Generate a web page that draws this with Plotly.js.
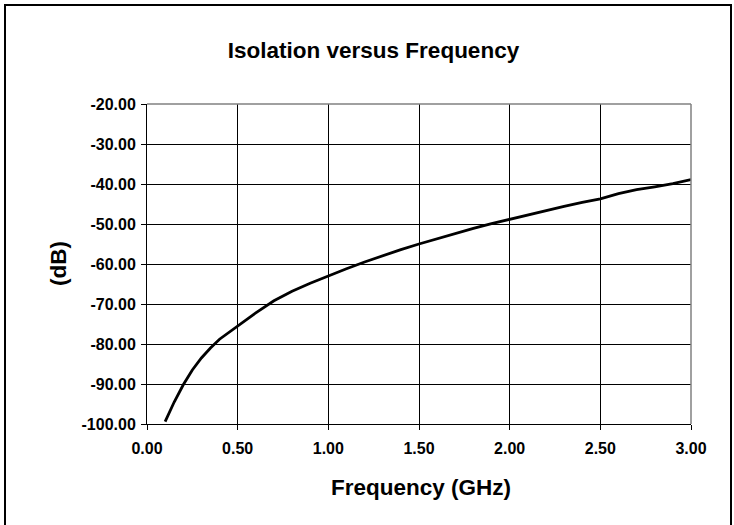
<!DOCTYPE html>
<html>
<head>
<meta charset="utf-8">
<script src="https://cdn.plot.ly/plotly-3.0.1.min.js"></script>
<style>
html, body { margin: 0; padding: 0; background: #fff; }
#chart { width: 734px; height: 525px; }
</style>
</head>
<body>
<div id="chart"></div>
<script>
// Data
var frequencyGHz = [0.10, 0.15, 0.20, 0.25, 0.30, 0.35, 0.40, 0.50, 0.60, 0.70, 0.80, 0.90, 1.00,
                    1.10, 1.20, 1.30, 1.40, 1.50, 1.60, 1.70, 1.80, 1.90, 2.00, 2.10, 2.20,
                    2.30, 2.40, 2.50, 2.60, 2.70, 2.80, 2.90, 3.00];
var isolationDB = [-99.4, -94.5, -90.2, -86.5, -83.5, -81.0, -78.8, -75.5, -72.2, -69.2, -66.8, -64.8, -62.9,
                   -61.2, -59.5, -57.9, -56.4, -55.0, -53.7, -52.3, -51.1, -49.9, -48.8, -47.7, -46.6,
                   -45.6, -44.6, -43.7, -42.4, -41.4, -40.7, -39.9, -38.9];
var xTickVals = [0, 0.5, 1.0, 1.5, 2.0, 2.5, 3.0];
var xTickText = ["0.00", "0.50", "1.00", "1.50", "2.00", "2.50", "3.00"];
var yTickVals = [-100, -90, -80, -70, -60, -50, -40, -30, -20];
var yTickText = ["-100.00", "-90.00", "-80.00", "-70.00", "-60.00", "-50.00", "-40.00", "-30.00", "-20.00"];
var chartTitle = "Isolation versus Frequency";
var xTitle = "Frequency (GHz)";
var yTitle = "(dB)";

var FONT = "Liberation Sans, Arial, Helvetica, sans-serif";

var trace = {
  x: frequencyGHz,
  y: isolationDB,
  type: "scatter",
  mode: "lines",
  line: { color: "#000000", width: 2.8 },
  hoverinfo: "skip"
};

var layout = {
  width: 734,
  height: 525,
  margin: { l: 147, r: 43, t: 104, b: 101 },
  paper_bgcolor: "#ffffff",
  plot_bgcolor: "#ffffff",
  showlegend: false,
  font: { family: FONT, color: "#000000" },
  title: {
    text: "<b>" + chartTitle + "</b>",
    font: { family: FONT, size: 22.5, color: "#000000" },
    xref: "container", x: 373.5 / 734, xanchor: "center",
    yref: "container", y: 1 - 50 / 525, yanchor: "middle"
  },
  xaxis: {
    range: [0, 3],
    tickvals: xTickVals,
    ticktext: xTickText,
    tickfont: { family: FONT, size: 16, color: "#000000", weight: "bold" },
    ticks: "outside", ticklen: 5, tickcolor: "#000000", tickwidth: 1,
    ticklabelstandoff: 5,
    showgrid: true, gridcolor: "#000000", gridwidth: 1,
    zeroline: false,
    showline: true, linecolor: "#000000", linewidth: 1,
    fixedrange: true
  },
  yaxis: {
    range: [-100, -20],
    tickvals: yTickVals,
    ticktext: yTickText,
    tickfont: { family: FONT, size: 16, color: "#000000", weight: "bold" },
    ticks: "outside", ticklen: 5, tickcolor: "#000000", tickwidth: 1,
    ticklabelstandoff: 2,
    showgrid: true, gridcolor: "#000000", gridwidth: 1,
    zeroline: false,
    showline: true, linecolor: "#000000", linewidth: 1,
    fixedrange: true
  },
  shapes: [
    { type: "line", xref: "paper", yref: "paper", x0: 0, x1: 1, y0: 1, y1: 1,
      line: { color: "#808080", width: 1.5 } },
    { type: "line", xref: "paper", yref: "paper", x0: 1, x1: 1, y0: 0, y1: 1,
      line: { color: "#808080", width: 1.5 } },
    { type: "rect", xref: "paper", yref: "paper",
      x0: (5 - 147) / 544, x1: (731 - 147) / 544,
      y0: (424 - 540) / 320, y1: (424 - 5) / 320,
      line: { color: "#000000", width: 2 }, fillcolor: "rgba(0,0,0,0)" }
  ],
  annotations: [
    { text: "<b>" + xTitle + "</b>", xref: "paper", yref: "paper",
      x: (421 - 147) / 544, y: (424 - 487) / 320, xanchor: "center", yanchor: "middle",
      showarrow: false, font: { family: FONT, size: 22.5, color: "#000000" } },
    { text: "<b>" + yTitle + "</b>", xref: "paper", yref: "paper",
      x: (58 - 147) / 544, y: 0.5, xanchor: "center", yanchor: "middle", textangle: -90,
      showarrow: false, font: { family: FONT, size: 22.5, color: "#000000" } }
  ]
};

Plotly.newPlot("chart", [trace], layout, { displayModeBar: false, staticPlot: true });
</script>
</body>
</html>
